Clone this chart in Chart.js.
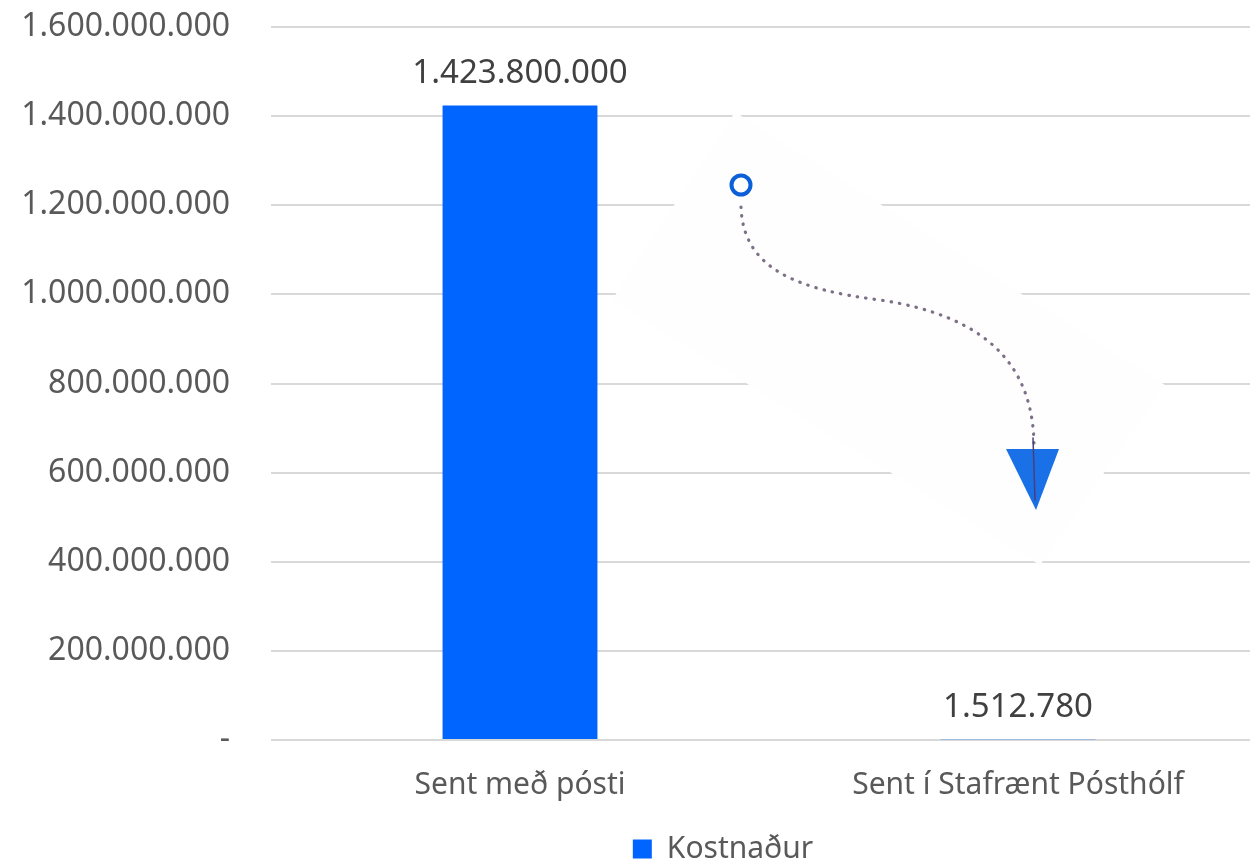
<!DOCTYPE html>
<html>
<head>
<meta charset="utf-8">
<script src="https://cdn.jsdelivr.net/npm/chart.js@4/dist/chart.umd.min.js"></script>
<style>
    html, body { margin: 0; padding: 0; background: #fff; overflow: hidden; }
    #wrap { width: 1446px; height: 862px; position: relative; }
</style>
</head>
<body>
<div id="wrap"><canvas id="costChart"></canvas></div>
<script>
// Data
const categories = ['Sent með pósti', 'Sent í Stafrænt Pósthólf'];
const costValues = [1423800000, 1512780];
const seriesLabel = 'Kostnaður';
const yTicks = [0, 200000000, 400000000, 600000000, 800000000, 1000000000, 1200000000, 1400000000, 1600000000];

const FONT = '"Noto Sans", "Open Sans", sans-serif';
const BLUE = '#0064ff';

function fmt(n) {
    if (n === 0) return '-';
    return String(Math.round(n)).replace(/\B(?=(\d{3})+(?!\d))/g, '.');
}

// value labels above bars
const valueLabels = {
    id: 'valueLabels',
    afterDatasetsDraw(chart) {
        const ctx = chart.ctx;
        const meta = chart.getDatasetMeta(0);
        ctx.save();
        ctx.font = '33px ' + FONT;
        ctx.fillStyle = '#404040';
        ctx.textAlign = 'center';
        ctx.textBaseline = 'middle';
        meta.data.forEach(function(bar, i) {
            ctx.fillText(fmt(costValues[i]), bar.x, bar.y - 32);
        });
        ctx.restore();
    }
};

// the pasted arrow picture on top of the plot
const arrowDecor = {
    id: 'arrowDecor',
    beforeDatasetsDraw(chart) {
        const ctx = chart.ctx;
        ctx.save();
        // near-white background of the pasted image
        ctx.fillStyle = '#fefeff';
        ctx.beginPath();
        ctx.moveTo(735, 112);
        ctx.lineTo(1165, 385);
        ctx.lineTo(1040, 565);
        ctx.lineTo(612, 300);
        ctx.closePath();
        ctx.fill();

        // dotted path
        ctx.strokeStyle = '#7d6f86';
        ctx.lineWidth = 3.2;
        ctx.lineCap = 'round';
        ctx.setLineDash([0.5, 8]);
        ctx.beginPath();
        ctx.moveTo(741, 207);
        ctx.bezierCurveTo(743, 270, 800, 290, 880, 300);
        ctx.bezierCurveTo(980, 315, 1033, 360, 1034, 445);
        ctx.stroke();
        ctx.setLineDash([]);

        // arrow head
        ctx.fillStyle = '#1a70e6';
        ctx.beginPath();
        ctx.moveTo(1006, 449);
        ctx.lineTo(1059, 449);
        ctx.lineTo(1036, 510);
        ctx.closePath();
        ctx.fill();
        ctx.strokeStyle = '#4a3f7a';
        ctx.lineWidth = 1.5;
        ctx.beginPath();
        ctx.moveTo(1033, 438);
        ctx.lineTo(1035, 500);
        ctx.stroke();

        // start ring
        ctx.strokeStyle = '#0b5fd8';
        ctx.lineWidth = 4;
        ctx.beginPath();
        ctx.arc(741, 185, 9.5, 0, Math.PI * 2);
        ctx.stroke();
        ctx.restore();
    }
};

new Chart(document.getElementById('costChart'), {
    type: 'bar',
    data: {
        labels: categories,
        datasets: [{
            label: seriesLabel,
            data: costValues,
            backgroundColor: BLUE,
            borderWidth: 0,
            barPercentage: 0.311,
            categoryPercentage: 1
        }]
    },
    options: {
        responsive: true,
        maintainAspectRatio: false,
        animation: false,
        layout: {
            padding: { left: 0, right: 0, top: 0, bottom: -12 }
        },
        scales: {
            x: {
                grid: { display: false },
                border: { display: false },
                ticks: {
                    color: '#595959',
                    font: { family: FONT, size: 30 },
                    padding: 19,
                    maxRotation: 0
                }
            },
            y: {
                min: 0,
                max: 1600000000,
                afterFit: function(scale) {
                    scale.width = 271;
                    scale.paddingTop = 27;
                    scale.paddingBottom = 0;
                },
                afterBuildTicks: function(scale) {
                    scale.ticks = yTicks.map(function(v) { return { value: v }; });
                },
                grid: { color: '#d9d9d9', lineWidth: 2, drawTicks: false },
                border: { display: false },
                ticks: {
                    color: '#595959',
                    font: { family: FONT, size: 32 },
                    padding: 41,
                    callback: function(value) { return fmt(value); }
                }
            },
            // empty spacer on the right so the legend centres like the original
            spacer: {
                type: 'linear',
                position: 'right',
                afterFit: function(scale) {
                    scale.width = 179;
                    scale.paddingTop = 0;
                    scale.paddingBottom = 0;
                },
                grid: { display: false, drawTicks: false },
                border: { display: false },
                ticks: { display: false }
            }
        },
        plugins: {
            legend: {
                position: 'bottom',
                labels: {
                    color: '#595959',
                    font: { family: FONT, size: 30 },
                    boxWidth: 19,
                    boxHeight: 19,
                    padding: 12
                }
            },
            tooltip: { enabled: false }
        }
    },
    plugins: [arrowDecor, valueLabels]
});
</script>
</body>
</html>
